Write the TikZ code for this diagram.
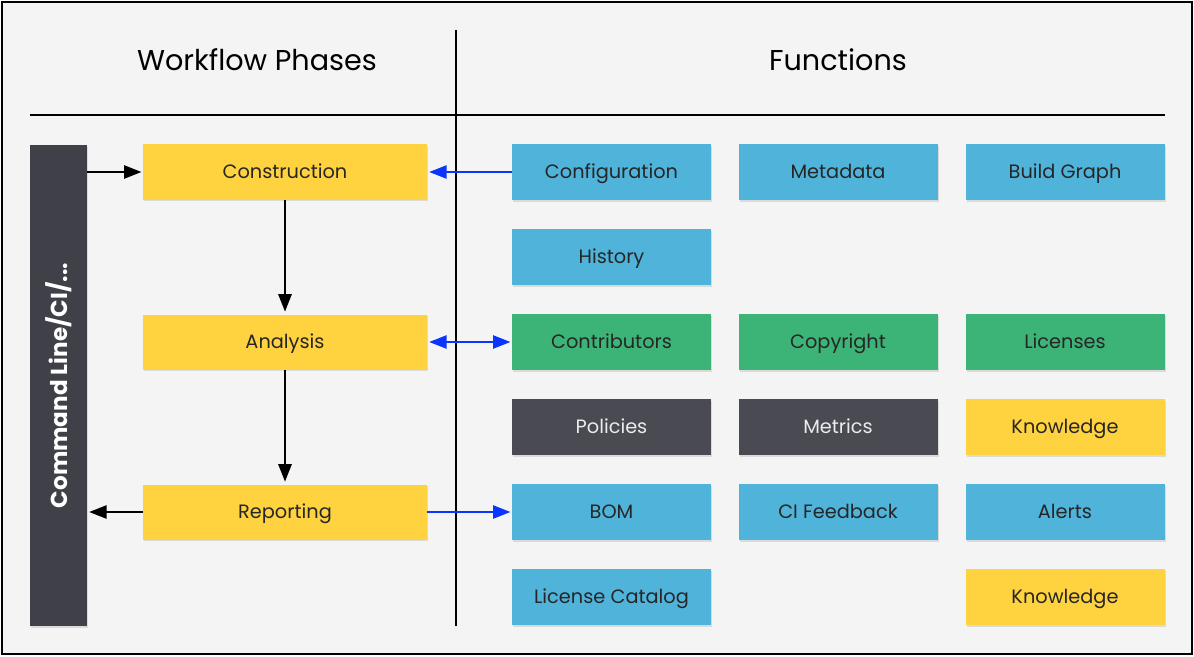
\documentclass[tikz,border=0pt]{standalone}
\usepackage{fontspec}
\setmainfont{Poppins}
\usetikzlibrary{arrows.meta,shadows}
\definecolor{fondo}{HTML}{F4F4F4}
\definecolor{amarillo}{HTML}{FFD23F}
\definecolor{azul}{HTML}{50B3DA}
\definecolor{verde}{HTML}{3DB477}
\definecolor{gris}{HTML}{4A4A52}
\definecolor{barra}{HTML}{404048}
\definecolor{flecha}{HTML}{0A35FF}
\tikzset{
  caja/.style={minimum width=149.25pt, minimum height=42pt, inner sep=0pt,
    text=black!85, font=\fontsize{14.5}{16}\selectfont, text height=2ex, text depth=0.3ex,
    drop shadow={opacity=0.22, shadow xshift=0.8pt, shadow yshift=-1.4pt}},
  fase/.style={caja, fill=amarillo, minimum width=213pt, minimum height=41.25pt},
  func/.style={caja, fill=azul},
  lic/.style={caja, fill=verde},
  pol/.style={caja, fill=gris, text=white!92!black},
  saber/.style={caja, fill=amarillo},
  punta/.style={-{Triangle[length=13pt,width=10pt]}, line width=1.1pt},
  azulito/.style={punta, flecha, line width=1pt}
}
\begin{document}
\begin{tikzpicture}[x=0.75pt, y=-0.75pt]
    \useasboundingbox (0,0) rectangle (1194,656);
    % Marco
    \fill[fondo] (2,2) rectangle (1192,654);
    \draw[line width=1.3pt] (2,2) rectangle (1192,654);
    % Titulos y divisiones
    \node[font=\fontsize{21.5}{24}\selectfont] (tfases) at (257,60) {Workflow Phases};
    \node[font=\fontsize{21.5}{24}\selectfont] (tfunc) at (838,60) {Functions};
    \draw[line width=1.2pt] (30,115) coordinate (hizq) -- (1165,115) coordinate (hder);
    \draw[line width=1.2pt] (456,30) coordinate (varr) -- (456,626) coordinate (vaba);
    % Barra de linea de comandos
    \node[fill=barra, minimum width=42.75pt, minimum height=360.75pt, inner sep=0pt,
      drop shadow={opacity=0.22, shadow xshift=0.8pt, shadow yshift=-1.4pt}] (cmd) at (58.5,385.5) {};
    \node[rotate=90, text=white, font=\fontsize{17.3}{20}\selectfont\bfseries] (cmdtxt) at (cmd.center) {Command Line/CI/...};
    % Fases
    \node[fase] (constr) at (285,172) {Construction};
    \node[fase] (anal) at (285,342) {Analysis};
    \node[fase] (report) at (285,512) {Reporting};
    % Funciones
    \node[func] (config) at (611.5,172) {Configuration};
    \node[func] (meta) at (838,172) {Metadata};
    \node[func] (grafo) at (1065,172) {Build Graph};
    \node[func] (hist) at (611.5,257) {History};
    \node[lic] (contrib) at (611.5,342) {Contributors};
    \node[lic] (copyr) at (838,342) {Copyright};
    \node[lic] (licen) at (1065,342) {Licenses};
    \node[pol] (polit) at (611.5,427) {Policies};
    \node[pol] (metric) at (838,427) {Metrics};
    \node[saber] (saber1) at (1065,427) {Knowledge};
    \node[func] (bom) at (611.5,512) {BOM};
    \node[func] (cifeed) at (838,512) {CI Feedback};
    \node[func] (alert) at (1065,512) {Alerts};
    \node[func] (catal) at (611.5,597) {License Catalog};
    \node[saber] (saber2) at (1065,597) {Knowledge};
    % Flechas
    \draw[punta] (cmd.east |- constr.west) -- ([xshift=-1pt]constr.west);
    \draw[punta] (constr.south) -- ([yshift=2pt]anal.north);
    \draw[punta] (anal.south) -- ([yshift=2pt]report.north);
    \draw[punta] (report.west) -- ([xshift=1.5pt]report.west -| cmd.east);
    \draw[azulito] (config.west) -- ([xshift=1.5pt]constr.east);
    \draw[azulito, {Triangle[length=13pt,width=10pt]}-{Triangle[length=13pt,width=10pt]}] ([xshift=1.5pt]anal.east) -- ([xshift=-1pt]contrib.west);
    \draw[azulito] (report.east) -- ([xshift=-1pt]bom.west);
\end{tikzpicture}
\end{document}
